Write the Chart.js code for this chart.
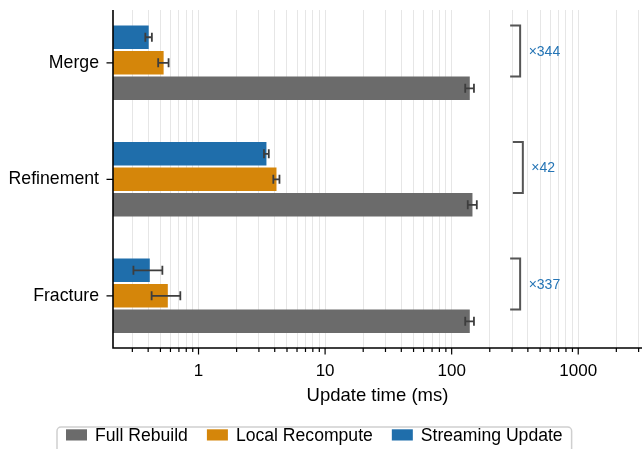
<!DOCTYPE html>
<html><head><meta charset="utf-8">
<script src="https://cdn.jsdelivr.net/npm/chart.js@4.4.1/dist/chart.umd.min.js"></script>
<style>html,body{margin:0;padding:0;background:#fff;}</style>
</head><body>
<canvas id="c" width="642" height="449"></canvas>
<script>
// ---- data ----
const categories = ['Merge', 'Refinement', 'Fracture'];
const seriesNames = ['Full Rebuild', 'Local Recompute', 'Streaming Update'];
const fullRebuild = [139, 146, 139];
const fullRebuildErr = [11, 12, 11];
const localRecompute = [0.53, 4.13, 0.572];
const localRecomputeErr = [0.05, 0.23, 0.146];
const streamingUpdate = [0.404, 3.44, 0.412];
const streamingUpdateErr = [0.024, 0.15, 0.106];
const xTickValues = [0.3,0.4,0.5,0.6,0.7,0.8,0.9,1,2,3,4,5,6,7,8,9,10,20,30,40,50,60,70,80,90,100,200,300,400,500,600,700,800,900,1000,2000,3000];
const xTickLabels = [1, 10, 100, 1000];
const xMin = 0.211, xMax = 3190;
const bracketFactor = 2.5;

const FONT = '"Liberation Sans", Arial, Helvetica, sans-serif';
Chart.defaults.font.family = FONT;
Chart.defaults.font.size = 17;
Chart.defaults.color = '#000';

const colors = { full: '#6b6b6b', local: '#d5860a', stream: '#1f6eab' };

function mk(label, vals, errs, color) {
  return {
    label, data: vals.map((v, i) => ({ x: v, y: i })), errors: errs,
    backgroundColor: color, borderWidth: 0,
    categoryPercentage: 0.657, barPercentage: 0.925
  };
}

const overlay = {
  id: 'overlay',
  afterDatasetsDraw(chart) {
    const { ctx, chartArea: ca, scales: { x, y } } = chart;
    // error bars
    chart.data.datasets.forEach((ds, di) => {
      const meta = chart.getDatasetMeta(di);
      meta.data.forEach((bar, i) => {
        const v = ds.data[i].x, e = ds.errors[i];
        const x0 = x.getPixelForValue(v - e), x1 = x.getPixelForValue(v + e);
        const yc = bar.y;
        ctx.save();
        ctx.strokeStyle = '#3d3d3d'; ctx.lineWidth = 1.8;
        ctx.beginPath();
        ctx.moveTo(x0, yc); ctx.lineTo(x1, yc);
        ctx.moveTo(x0, yc - 4.5); ctx.lineTo(x0, yc + 4.5);
        ctx.moveTo(x1, yc - 4.5); ctx.lineTo(x1, yc + 4.5);
        ctx.stroke();
        ctx.restore();
      });
    });
    // brackets with speedup ratio
    const sMeta = chart.getDatasetMeta(0), fMeta = chart.getDatasetMeta(2);
    categories.forEach((c, i) => {
      const sb = sMeta.data[i], fb = fMeta.data[i];
      const top = sb.y - sb.height / 2, bot = fb.y - fb.height / 2;
      const bx = x.getPixelForValue(fullRebuild[i] * bracketFactor);
      ctx.save();
      ctx.strokeStyle = '#555'; ctx.lineWidth = 2;
      ctx.beginPath();
      ctx.moveTo(bx, top); ctx.lineTo(bx, bot);
      ctx.moveTo(bx - 10, top); ctx.lineTo(bx + 1, top);
      ctx.moveTo(bx - 10, bot); ctx.lineTo(bx + 1, bot);
      ctx.stroke();
      ctx.fillStyle = '#2474b5';
      ctx.font = '14px ' + FONT;
      ctx.textAlign = 'left'; ctx.textBaseline = 'alphabetic';
      const ratio = Math.round(fullRebuild[i] / streamingUpdate[i]);
      ctx.fillText('\u00d7' + ratio, bx + 8.5, (top + bot) / 2 + 5);
      ctx.restore();
    });
    // spines and tick marks
    ctx.save();
    ctx.strokeStyle = '#000'; ctx.lineWidth = 1.6;
    ctx.beginPath();
    ctx.moveTo(ca.left, ca.top); ctx.lineTo(ca.left, ca.bottom + 0.8);
    ctx.moveTo(ca.left - 0.8, ca.bottom); ctx.lineTo(ca.right, ca.bottom);
    ctx.stroke();
    ctx.lineWidth = 1.2;
    ctx.beginPath();
    xTickValues.forEach(v => {
      const px = x.getPixelForValue(v);
      const major = xTickLabels.includes(v);
      ctx.moveTo(px, ca.bottom); ctx.lineTo(px, ca.bottom + (major ? 6.5 : 4));
    });
    categories.forEach((c, i) => {
      const py = y.getPixelForValue(i);
      ctx.moveTo(ca.left, py); ctx.lineTo(ca.left - 6.5, py);
    });
    ctx.stroke();
    ctx.restore();
  },
  afterDraw(chart) {
    const { ctx } = chart;
    const items = chart.data.datasets.slice().reverse();
    ctx.save();
    ctx.font = '17.6px ' + FONT;
    let xx = 66;
    const pos = items.map(ds => {
      const w = ctx.measureText(ds.label).width;
      const p = { ds, px: xx, tx: xx + 29, w };
      xx = xx + 29 + w + 19;
      return p;
    });
    const last = pos[pos.length - 1];
    const boxL = 57, boxR = last.tx + last.w + 9, boxT = 427, boxB = 470;
    ctx.beginPath();
    ctx.roundRect(boxL, boxT, boxR - boxL, boxB - boxT, 4);
    ctx.fillStyle = '#fff'; ctx.fill();
    ctx.strokeStyle = '#cfcfcf'; ctx.lineWidth = 1.5; ctx.stroke();
    pos.forEach(p => {
      ctx.fillStyle = p.ds.backgroundColor;
      ctx.fillRect(p.px, 429.3, 21, 11.2);
      ctx.fillStyle = '#000';
      ctx.textAlign = 'left'; ctx.textBaseline = 'alphabetic';
      ctx.fillText(p.ds.label, p.tx, 440.5);
    });
    ctx.restore();
  }
};

new Chart(document.getElementById('c'), {
  type: 'bar',
  data: {
    datasets: [
      mk(seriesNames[2], streamingUpdate, streamingUpdateErr, colors.stream),
      mk(seriesNames[1], localRecompute, localRecomputeErr, colors.local),
      mk(seriesNames[0], fullRebuild, fullRebuildErr, colors.full)
    ]
  },
  options: {
    indexAxis: 'y',
    responsive: false,
    animation: false,
    devicePixelRatio: 1,
    layout: { padding: { top: 10, left: 0, right: 0, bottom: 0 } },
    plugins: { legend: { display: false }, tooltip: { enabled: false } },
    scales: {
      x: {
        type: 'logarithmic', position: 'bottom', min: xMin, max: xMax, offset: false,
        afterBuildTicks: s => { s.ticks = xTickValues.map(v => ({ value: v })); },
        afterFit: s => { s.height = 101; s.paddingLeft = 0; s.paddingRight = 0; },
        grid: { color: '#e6e6e6', lineWidth: 1, drawTicks: false, offset: false },
        border: { display: false },
        ticks: {
          autoSkip: false, maxRotation: 0, minRotation: 0, padding: 13,
          callback: v => xTickLabels.includes(v) ? String(v) : ''
        },
        title: { display: true, text: 'Update time (ms)', font: { size: 18.5 }, padding: { top: 0, bottom: 42 } }
      },
      y: {
        type: 'linear', reverse: true, min: -0.453, max: 2.448, bounds: 'data', offset: false,
        afterBuildTicks: s => { s.ticks = categories.map((c, i) => ({ value: i })); },
        afterFit: s => { s.width = 113; s.paddingTop = 0; s.paddingBottom = 0; },
        grid: { display: false, drawTicks: false, offset: false },
        border: { display: false },
        ticks: { padding: 14, font: { size: 17.7 }, callback: v => categories[v] ?? '' }
      }
    }
  },
  plugins: [overlay]
});
</script>
</body></html>
